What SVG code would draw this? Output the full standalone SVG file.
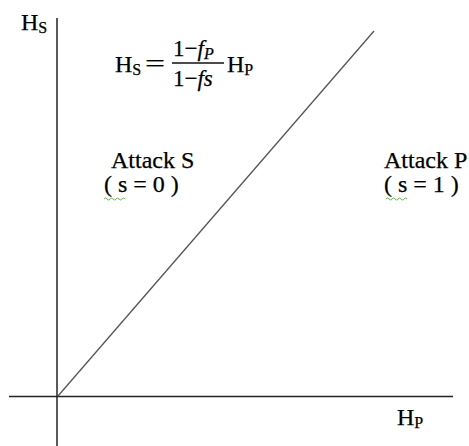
<svg xmlns="http://www.w3.org/2000/svg" width="469" height="446" viewBox="0 0 469 446">
<style>
text{font-family:"Liberation Serif","Times New Roman",serif;fill:#000;stroke:#000;stroke-width:0.25}
.t{font-size:24px}
.sub{font-size:16px}
.m{font-size:23px}
.i{font-style:italic}
.ax{stroke:#222;stroke-width:1.5;fill:none}
.dg{stroke:#555;stroke-width:1.3;fill:none}
.sq{stroke:#5bbf3a;stroke-width:1;fill:none}
</style>
<rect width="469" height="446" fill="#fff"/>
<g id="connectors">
<line class="ax" x1="57" y1="18" x2="57" y2="446"/>
<line class="ax" x1="9" y1="396.5" x2="453" y2="396.5"/>
<line class="dg" x1="58" y1="396" x2="374" y2="31"/>
</g>
<g id="label-hs">
<text class="t" x="21" y="30">H<tspan class="sub" dy="3">S</tspan></text>
</g>
<g id="label-hp">
<text class="t" x="397" y="425">H<tspan class="sub" dy="3">P</tspan></text>
</g>
<g id="formula">
<text class="t" x="115" y="72">H<tspan class="sub" dy="3">S</tspan></text>
<text class="t" x="145" y="71" textLength="20" lengthAdjust="spacingAndGlyphs">=</text>
<text class="m" x="173" y="56">1−<tspan class="i">f</tspan><tspan class="sub i" dy="3">P</tspan></text>
<line x1="172" y1="63" x2="224" y2="63" stroke="#111" stroke-width="1.3"/>
<text class="m" x="173" y="86">1−<tspan class="i">fs</tspan></text>
<text class="t" x="227" y="72">H<tspan class="sub" dy="3">P</tspan></text>
</g>
<g id="region-s">
<text class="t" x="111" y="168">Attack S</text>
<text class="t" x="104" y="192">( s = 0 )</text>
<path class="sq" d="M104 199 q1.5 -2 3 0 t3 0 t3 0 t3 0 t3 0 t3 0 t3 0"/>
</g>
<g id="region-p">
<text class="t" x="384" y="168">Attack P</text>
<text class="t" x="384" y="192">( s = 1 )</text>
<path class="sq" d="M386 199 q1.5 -2 3 0 t3 0 t3 0 t3 0 t3 0 t3 0 t3 0"/>
</g>
</svg>
